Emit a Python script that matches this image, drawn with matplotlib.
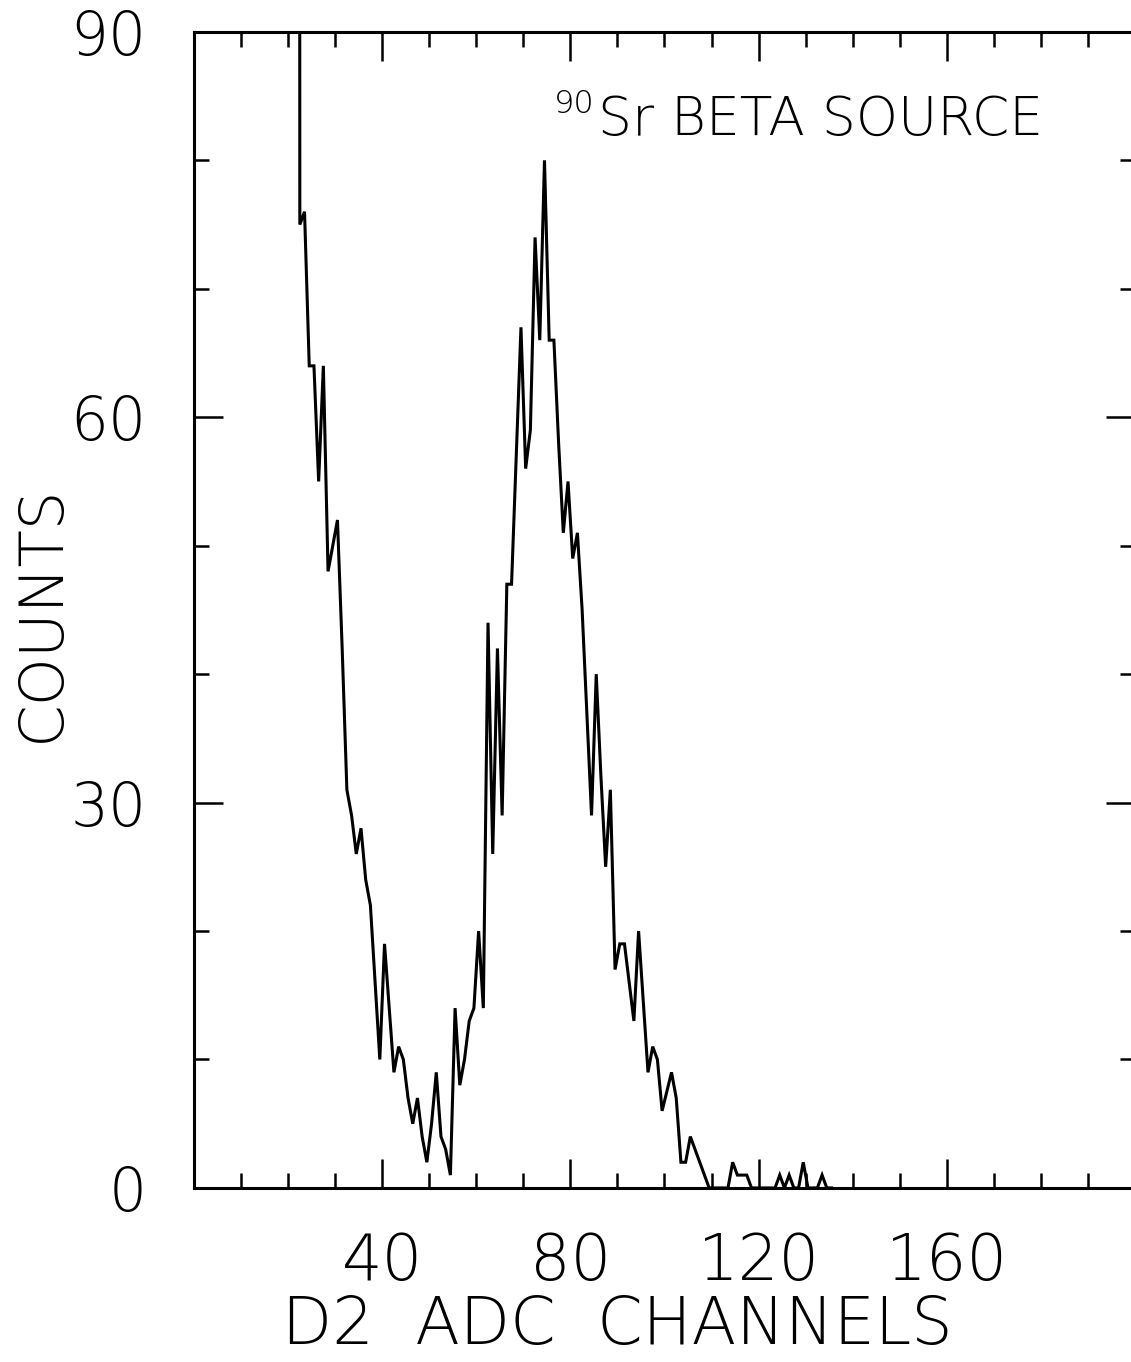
import numpy as np
import matplotlib
matplotlib.use("Agg")
import matplotlib.pyplot as plt
from matplotlib.ticker import MultipleLocator, FixedLocator

plt.rcParams['font.family'] = ['DejaVu Sans']

# ADC channel bins (first bin is the pedestal, far off scale)
first_channel = 21
counts = [
    1000, 75, 76, 64, 64, 55, 64, 48, 50, 52,      # 21-30
    42, 31, 29, 26, 28, 24, 22, 16, 10, 19,        # 31-40
    14, 9, 11, 10, 7, 5, 7, 4, 2, 5,               # 41-50
    9, 4, 3, 1, 14, 8, 10, 13, 14, 20,             # 51-60
    14, 44, 26, 42, 29, 47, 47, 57, 67, 56,        # 61-70
    59, 74, 66, 80, 66, 66, 58, 51, 55, 49,        # 71-80
    51, 45, 37, 29, 40, 32, 25, 31, 17, 19,        # 81-90
    19, 16, 13, 20, 14.5, 9, 11, 10, 6, 7.5,       # 91-100
    9, 7, 2, 2, 4, 3, 2, 1, 0, 0,                  # 101-110
    0, 0, 0, 2, 1, 1, 1, 0, 0, 0,                  # 111-120
    0, 0, 0, 1, 0, 1, 0, 0, 2, 0,                  # 121-130
    0, 0, 1, 0, 0,                                 # 131-135
]
channels = np.arange(first_channel, first_channel + len(counts)) + 0.5

x_labels = [40, 80, 120, 160]
y_labels = [0, 30, 60, 90]

fig = plt.figure(figsize=(11.31, 13.62), dpi=100)
ax = fig.add_axes([0.1715, 0.1278, 0.832, 0.8488])

ax.plot(channels, counts, color='black', lw=2.2, solid_joinstyle='miter')

ax.set_xlim(0, 200)
ax.set_ylim(0, 90)
ax.xaxis.set_major_locator(FixedLocator(x_labels))
ax.xaxis.set_minor_locator(MultipleLocator(10))
ax.yaxis.set_major_locator(FixedLocator(y_labels))
ax.yaxis.set_minor_locator(MultipleLocator(10))

for s in ax.spines.values():
    s.set_linewidth(2.2)

ax.tick_params(which='both', direction='in', top=True, right=True, width=1.8, colors='black')
ax.tick_params(which='major', length=21)
ax.tick_params(which='minor', length=11)
ax.tick_params(axis='x', which='major', labelsize=46, pad=31)
ax.tick_params(axis='y', which='major', labelsize=43, pad=34)
for lab in ax.get_xticklabels() + ax.get_yticklabels():
    lab.set_fontweight('light')

ax.set_xlabel('D2  ADC  CHANNELS', fontsize=47, fontweight='light', va='baseline')
ax.xaxis.set_label_coords(0.4495, -0.1350)
ax.set_ylabel('COUNTS', fontsize=44, fontweight='light', va='center')
ax.yaxis.set_label_coords(-0.1615, 0.497)

ax.text(0.3826, 0.9299, '90', transform=ax.transAxes, fontsize=23, fontweight='light',
        ha='left', va='baseline')
ax.text(0.4293, 0.9109, 'Sr BETA SOURCE', transform=ax.transAxes, fontsize=38.5,
        fontweight='light', ha='left', va='baseline')

fig.savefig('out.png', dpi=100)
